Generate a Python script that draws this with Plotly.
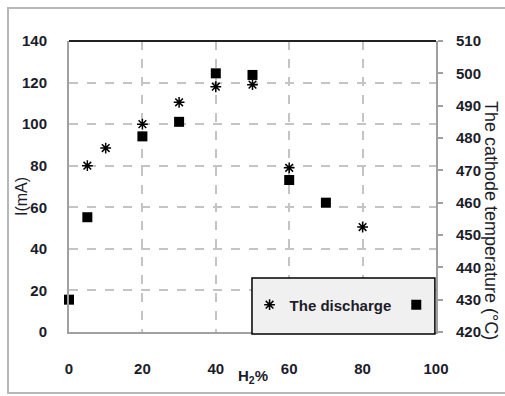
import plotly.graph_objects as go

# Data
h2_star = [5, 10, 20, 30, 40, 50, 60, 80]
current_mA = [80, 88.5, 100, 110.5, 118, 119, 79, 50.5]

h2_square = [0, 5, 20, 30, 40, 50, 60, 70]
cathode_temp = [430, 455.5, 480.5, 485, 500, 499.5, 467, 460]

x_ticks = [0, 20, 40, 60, 80, 100]
y_left_ticks = [0, 20, 40, 60, 80, 100, 120, 140]
y_right_ticks = [420, 430, 440, 450, 460, 470, 480, 490, 500, 510]

FONT = "Liberation Sans"
TXT = "#1c1c2a"

fig = go.Figure()
fig.add_trace(go.Scatter(
    x=h2_star, y=current_mA, mode="markers", name="The discharge",
    marker=dict(symbol="asterisk-open", size=9, color="black",
                line=dict(color="black", width=1.5)),
    cliponaxis=False, yaxis="y"))
fig.add_trace(go.Scatter(
    x=h2_square, y=cathode_temp, mode="markers", name="\u00a0",
    marker=dict(symbol="square", size=10, color="black"),
    cliponaxis=False, yaxis="y2"))

tick_font = dict(family=FONT, size=15, color=TXT, weight="bold")

fig.update_layout(
    width=505, height=396,
    margin=dict(l=69, r=69, t=41, b=64),
    paper_bgcolor="white", plot_bgcolor="white",
    font=dict(family=FONT, color=TXT),
    xaxis=dict(range=[0, 100], tickvals=x_ticks, showgrid=True,
               gridcolor="#c4c4c4", griddash="dash", gridwidth=1.5,
               showline=True, linecolor="#a0a0a0", linewidth=2,
               zeroline=False, ticks="", ticklabelstandoff=22,
               tickfont=tick_font),
    yaxis=dict(range=[0, 140], tickvals=y_left_ticks, showgrid=True,
               gridcolor="#c4c4c4", griddash="dash", gridwidth=1.5,
               showline=True, linecolor="#a0a0a0", linewidth=2,
               zeroline=False, ticks="", ticklabelstandoff=17,
               tickfont=tick_font),
    yaxis2=dict(range=[420, 510], tickvals=y_right_ticks, overlaying="y",
                side="right", showgrid=False, zeroline=False,
                showline=True, linecolor="#a0a0a0", linewidth=2,
                ticks="outside", ticklen=5, tickcolor="#a0a0a0", tickwidth=1.5,
                ticklabelstandoff=10,
                tickfont=tick_font),
    showlegend=True,
    legend=dict(orientation="h", x=0.492, xanchor="left", y=0.093,
                yanchor="middle", bgcolor="rgba(0,0,0,0)", borderwidth=0,
                font=dict(family=FONT, size=15, color=TXT, weight="bold"),
                itemwidth=30),
    shapes=[
        # legend box
        dict(type="rect", xref="paper", yref="paper", x0=0.4986, x1=0.997,
             y0=-0.007, y1=0.1856, fillcolor="#f0f0f0",
             line=dict(color="black", width=1.5), layer="above"),
        # top frame line
        dict(type="line", xref="paper", yref="paper", x0=0, x1=1, y0=1, y1=1,
             line=dict(color="#222", width=2)),
        # outer chart border
        dict(type="rect", xref="paper", yref="paper",
             x0=(8 - 69) / 367, x1=(520 - 69) / 367,
             y0=(332 - 393) / 291, y1=(332 - 8) / 291,
             line=dict(color="#b8b8b8", width=2), layer="below"),
    ],
    annotations=[
        dict(text="I(mA)", xref="paper", yref="paper",
             x=(21 - 69) / 367, y=(332 - 197) / 291, textangle=-90,
             xanchor="center", yanchor="middle",
             showarrow=False, font=dict(family=FONT, size=16, color=TXT)),
        dict(text="H<sub>2</sub>%", xref="paper", yref="paper",
             x=(253 - 69) / 367, y=(332 - 377) / 291,
             xanchor="center", yanchor="middle",
             showarrow=False,
             font=dict(family=FONT, size=15, color=TXT, weight="bold")),
        dict(text="The cathode temperature (°C)", xref="paper", yref="paper",
             x=(491 - 69) / 367, y=(332 - 220) / 291, textangle=90,
             xanchor="center", yanchor="middle",
             showarrow=False,
             font=dict(family=FONT, size=18, color=TXT)),
    ],
)

fig.write_html("out.html")
